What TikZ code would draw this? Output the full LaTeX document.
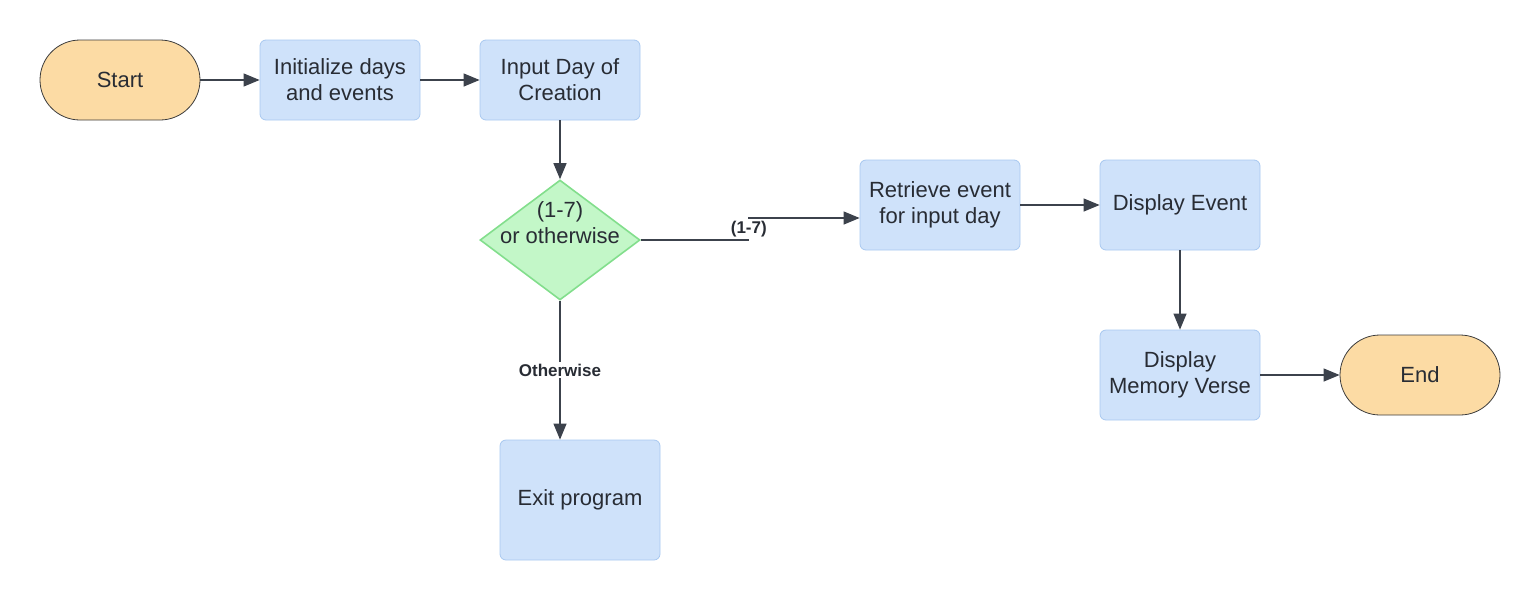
\documentclass[tikz,border=0pt]{standalone}
\usepackage{fontspec}
\setmainfont{Liberation Sans}
\usepackage{tikz}
\usetikzlibrary{arrows.meta, positioning, shapes.geometric}
\definecolor{termfill}{HTML}{FCDBA4}
\definecolor{termline}{HTML}{3C3C3C}
\definecolor{procfill}{HTML}{CFE2FA}
\definecolor{procline}{HTML}{A8C8F0}
\definecolor{decfill}{HTML}{C3F7C8}
\definecolor{decline}{HTML}{82DE8C}
\definecolor{inktext}{HTML}{282C34}
\definecolor{inkline}{HTML}{3C424C}
\tikzstyle{terminal}=[rectangle, rounded corners=20pt, draw=termline, fill=termfill, minimum width=80pt, minimum height=40pt, inner sep=0pt]
\tikzstyle{process}=[rectangle, rounded corners=3pt, draw=procline, fill=procfill, minimum width=80pt, minimum height=40pt, inner sep=0pt, align=center]
\tikzstyle{decision}=[diamond, draw=decline, fill=decfill, line width=0.8pt, minimum width=80pt, minimum height=60pt, inner sep=0pt]
\tikzstyle{pre}=[<-, draw=inkline, line width=0.6pt]
\tikzstyle{post}=[->, draw=inkline, line width=0.6pt]
\tikzstyle{answer}=[fill=white, text=inktext, inner sep=1pt, font=\bfseries\fontsize{8.5}{10}\selectfont]

\begin{document}
\begin{tikzpicture}[x=0.5pt, y=-0.5pt, node distance=110pt, >={Triangle[length=8pt,width=6.5pt]}, font=\fontsize{11}{13}\selectfont, text=inktext]
    \useasboundingbox (0,0) rectangle (1540,600);

    \node [terminal] (start) at (120,80) {Start};
    \node [process] (init) [right of=start] {Initialize days\\and events}
          edge [pre] (start);
    \node [process] (input) [right of=init] {Input Day of\\Creation}
          edge [pre] (init);

    \node [decision] (dia) [below of=input, node distance=80pt]
          {\makebox[0pt]{\raisebox{4.5pt}[0pt][0pt]{\begin{tabular}{@{}c@{}}(1-7)\\or otherwise\end{tabular}}}}
          edge [pre] (input);

    \node [process, minimum height=60pt] (exit) [below of=dia, node distance=130pt, xshift=10pt] {Exit program};
    \draw [post] (dia.south) -- node [answer] (other) {Otherwise} (dia.south |- exit.north);

    \node [process, minimum height=45pt] (retrieve) [right of=dia, node distance=190pt, yshift=17.5pt] {Retrieve event\\for input day};
    \coordinate (jog) at ([xshift=54pt]dia.east);
    \draw [post] (dia.east) -- (jog) |- node [answer, pos=0.25] (days) {(1-7)} ([yshift=-6.5pt]retrieve.west);

    \node [process, minimum height=45pt] (display) [right of=retrieve, node distance=120pt] {Display Event}
          edge [pre] (retrieve);
    \node [process, minimum height=45pt] (memory) [below of=display, node distance=85pt] {Display\\Memory Verse}
          edge [pre] (display);
    \node [terminal] (stop) [right of=memory, node distance=120pt] {End}
          edge [pre] (memory);
\end{tikzpicture}
\end{document}
